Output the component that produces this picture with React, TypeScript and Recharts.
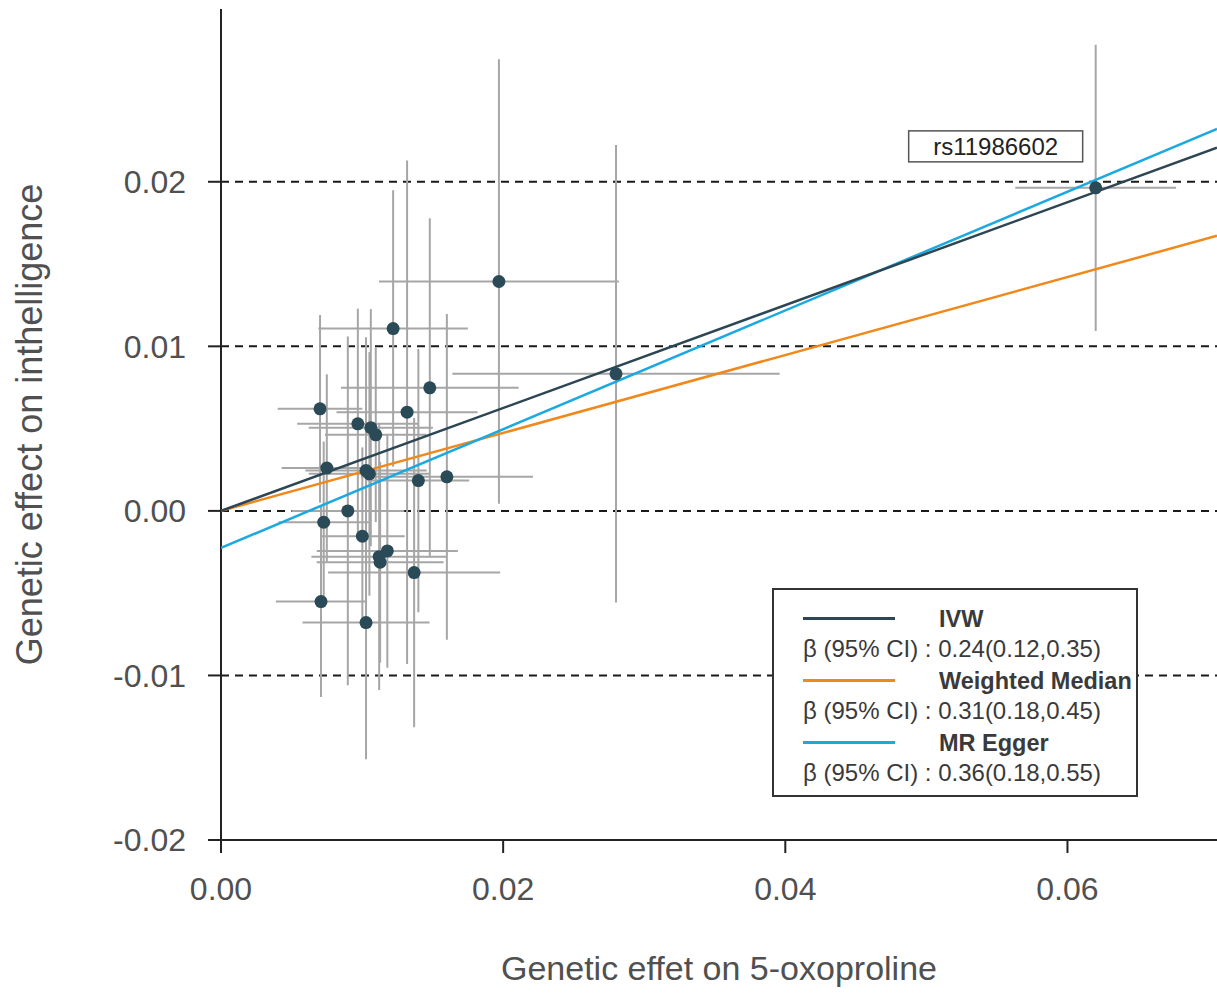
import React from 'react';
import {
    ComposedChart,
    Scatter,
    XAxis,
    YAxis,
    CartesianGrid,
    ErrorBar,
    Legend,
    ReferenceDot,
    Label,
} from 'recharts';

// SNP estimates
const snpX = [0.00702, 0.01319, 0.0097, 0.01062, 0.01097, 0.0075, 0.01028, 0.01052, 0.01399, 0.01601, 0.00899, 0.00728, 0.01002, 0.01179, 0.01121, 0.01128, 0.01369, 0.00709, 0.01028, 0.0122, 0.0197, 0.0148, 0.028, 0.062];
const snpY = [0.0062, 0.006, 0.00529, 0.00506, 0.00462, 0.0026, 0.00245, 0.00225, 0.00184, 0.00207, 0.0, -0.00069, -0.00154, -0.00243, -0.00278, -0.00312, -0.00375, -0.00551, -0.00679, 0.01108, 0.01394, 0.00748, 0.00833, 0.01963];
const snpErrX = [0.003, 0.005, 0.0043, 0.0044, 0.0036, 0.0032, 0.0043, 0.0043, 0.0036, 0.0061, 0.004, 0.0032, 0.003, 0.005, 0.0048, 0.0045, 0.0061, 0.0032, 0.0045, 0.0053, 0.0085, 0.0063, 0.0116, 0.0057];
const snpErrY = [0.0057, 0.0153, 0.007, 0.0072, 0.0053, 0.0057, 0.0081, 0.0074, 0.008, 0.0099, 0.0106, 0.0049, 0.0054, 0.0071, 0.0081, 0.0061, 0.0094, 0.0058, 0.0083, 0.0084, 0.0135, 0.0103, 0.0139, 0.0087];

// regression line end points (x = 0 and right edge)
const ivwLine = [{ x: 0, y: 0 }, { x: 0.0706, y: 0.02207 }];
const medianLine = [{ x: 0, y: 0 }, { x: 0.0706, y: 0.01672 }];
const eggerLine = [{ x: 0, y: -0.00225 }, { x: 0.0706, y: 0.02322 }];

const xTicks = [0, 0.02, 0.04, 0.06];
const yTicks = [-0.02, -0.01, 0, 0.01, 0.02];
const dashedRefs = [-0.01, 0, 0.01, 0.02];

const methodNames = ['IVW', 'Weighted Median', 'MR Egger'];
const methodBetas = ['0.24(0.12,0.35)', '0.31(0.18,0.45)', '0.36(0.18,0.55)'];
const methodColors = ['#2d4653', '#f0891a', '#1aa9e0'];

const highlightSnp = 'rs11986602';

const snps = snpX.map((x, i) => ({ x, y: snpY[i], ex: snpErrX[i], ey: snpErrY[i] }));

const FONT = '"Liberation Sans", Arial, Helvetica, sans-serif';
const TEXT = '#505050';

const NoDot = () => <g />;
const Dot = (props: any) => <circle cx={props.cx} cy={props.cy} r={6.5} fill="#2b4a57" />;

function MethodLegend() {
    return (
        <div
            style={{
                width: 362,
                height: 205,
                border: '2px solid #333',
                background: '#fff',
                fontFamily: FONT,
                color: '#3a3a3a',
                position: 'relative',
            }}
        >
            {methodNames.map((name, i) => (
                <React.Fragment key={name}>
                    <div
                        style={{
                            position: 'absolute',
                            left: 29,
                            top: 27 + i * 62,
                            width: 92,
                            height: 3,
                            background: methodColors[i],
                        }}
                    />
                    <div
                        style={{
                            position: 'absolute',
                            left: 165,
                            top: 14 + i * 62,
                            fontWeight: 'bold',
                            fontSize: 23.5,
                            lineHeight: '30px',
                            whiteSpace: 'nowrap',
                        }}
                    >
                        {name}
                    </div>
                    <div
                        style={{
                            position: 'absolute',
                            left: 29,
                            top: 44 + i * 62,
                            fontSize: 24,
                            lineHeight: '30px',
                            whiteSpace: 'nowrap',
                        }}
                    >
                        {`β (95% CI) : ${methodBetas[i]}`}
                    </div>
                </React.Fragment>
            ))}
        </div>
    );
}

const SnpTag = (props: any) => {
    const { cx, cy } = props;
    return (
        <g>
            <rect x={cx - 187} y={cy - 57} width={174} height={31} fill="#fff" stroke="#555" strokeWidth={1.5} />
            <text
                x={cx - 100}
                y={cy - 41}
                textAnchor="middle"
                dominantBaseline="central"
                fontSize={24}
                fontFamily={FONT}
                fill="#222"
            >
                {highlightSnp}
            </text>
        </g>
    );
};

export default function App() {
    const tickStyle = { fontSize: 32, fill: TEXT, fontFamily: FONT };
    return (
        <div style={{ position: 'absolute', left: 0, top: 0, background: '#fff' }}>
            <ComposedChart width={1217} height={996} margin={{ top: 9, right: 0, left: 0, bottom: 0 }}>
                <CartesianGrid
                    horizontal
                    vertical={false}
                    horizontalValues={dashedRefs}
                    stroke="#1a1a1a"
                    strokeWidth={2}
                    strokeDasharray="8 6"
                />
                <XAxis
                    type="number"
                    dataKey="x"
                    domain={[0, 0.0706]}
                    ticks={xTicks}
                    allowDataOverflow
                    height={156}
                    tick={tickStyle}
                    tickSize={13}
                    tickMargin={24}
                    tickFormatter={(v: number) => v.toFixed(2)}
                    stroke="#222"
                    strokeWidth={2}
                >
                    <Label
                        value="Genetic effet on 5-oxoproline"
                        position="insideBottom"
                        offset={16}
                        style={{ fontSize: 34, fill: TEXT, fontFamily: FONT }}
                    />
                </XAxis>
                <YAxis
                    type="number"
                    dataKey="y"
                    domain={[-0.02, 0.0305]}
                    ticks={yTicks}
                    allowDataOverflow
                    width={221}
                    tick={tickStyle}
                    tickSize={13}
                    tickMargin={22}
                    tickFormatter={(v: number) => v.toFixed(2)}
                    stroke="#222"
                    strokeWidth={2}
                >
                    <Label
                        value="Genetic effect on inthelligence"
                        angle={-90}
                        position="insideLeft"
                        offset={29}
                        textAnchor="middle"
                        style={{ fontSize: 36, fill: TEXT, fontFamily: FONT, textAnchor: 'middle' }}
                    />
                </YAxis>
                <Legend
                    layout="horizontal"
                    verticalAlign="middle"
                    align="center"
                    content={() => <MethodLegend />}
                    wrapperStyle={{ left: 772, top: 588, width: 366, height: 209 }}
                />
                <Scatter data={snps} shape={NoDot} isAnimationActive={false} legendType="none">
                    <ErrorBar dataKey="ex" direction="x" width={0} stroke="#a6a6a6" strokeWidth={2} />
                    <ErrorBar dataKey="ey" direction="y" width={0} stroke="#a6a6a6" strokeWidth={2} />
                </Scatter>
                <Scatter
                    data={medianLine}
                    line={{ stroke: methodColors[1], strokeWidth: 2.5 }}
                    shape={NoDot}
                    isAnimationActive={false}
                />
                <Scatter
                    data={eggerLine}
                    line={{ stroke: methodColors[2], strokeWidth: 2.5 }}
                    shape={NoDot}
                    isAnimationActive={false}
                />
                <Scatter
                    data={ivwLine}
                    line={{ stroke: methodColors[0], strokeWidth: 2.5 }}
                    shape={NoDot}
                    isAnimationActive={false}
                />
                <Scatter data={snps} shape={Dot} isAnimationActive={false} />
                <ReferenceDot x={snpX[23]} y={snpY[23]} r={0} shape={SnpTag} />
            </ComposedChart>
        </div>
    );
}
